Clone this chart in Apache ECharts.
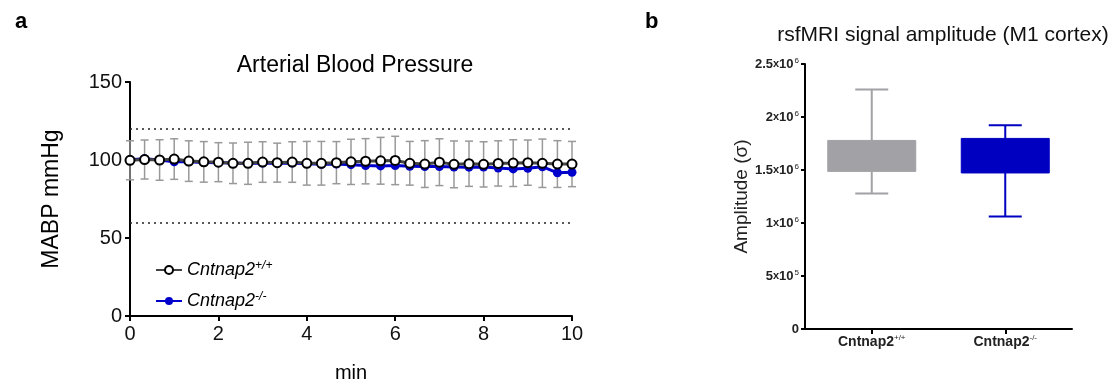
<!DOCTYPE html>
<html><head><meta charset="utf-8">
<script src="https://cdn.jsdelivr.net/npm/echarts@6/dist/echarts.min.js"></script>
<style>html,body{margin:0;padding:0;background:#fff}#c{width:1112px;height:385px}</style>
</head><body><div id="c"></div>
<script>
// ---- Panel a data ----
const minutes = [0, 0.33, 0.67, 1, 1.33, 1.67, 2, 2.33, 2.67, 3, 3.33, 3.67, 4, 4.33, 4.67, 5, 5.33, 5.67, 6, 6.33, 6.67, 7, 7.33, 7.67, 8, 8.33, 8.67, 9, 9.33, 9.67, 10];
const wtMean = [99.8, 100.3, 100.0, 100.6, 99.3, 98.8, 98.6, 97.9, 97.9, 98.7, 98.3, 98.7, 97.9, 97.9, 98.3, 98.8, 99.2, 99.5, 99.7, 97.9, 97.4, 98.6, 97.2, 97.6, 97.2, 97.8, 98.0, 98.3, 97.9, 97.4, 97.4];
const wtSD = [12.5, 12.5, 13, 13, 13, 13, 12.5, 13, 13.5, 13, 12.5, 13, 14, 14, 13.5, 14.5, 14.5, 15, 15.5, 14, 15, 15, 15, 14.5, 14.5, 14.5, 15, 14.5, 15.5, 15, 14.5];
const koMean = [100.2, 100.8, 100.0, 98.8, 98.8, 98.4, 98.2, 98.0, 97.8, 98.0, 97.8, 98.0, 97.6, 97.2, 97.4, 97.0, 96.4, 96.2, 96.4, 96.0, 95.8, 95.8, 95.5, 95.4, 95.5, 94.8, 94.3, 94.7, 95.7, 91.8, 92.1];
const refLines = [120, 60];
const seriesNames = ['Cntnap2+/+', 'Cntnap2-/-'];
const seriesSup = ['+/+', '-/-'];

// ---- Panel b data ----
const boxGroups = ['Cntnap2+/+', 'Cntnap2-/-'];
const boxMin = [1279000, 1062000];
const boxQ1 = [1487000, 1472000];
const boxQ3 = [1779000, 1798000];
const boxMax = [2260000, 1921000];
const ampTickLabels = {0: ['0', ''], 500000: ['5', '5'], 1000000: ['1', '6'], 1500000: ['1.5', '6'], 2000000: ['2', '6'], 2500000: ['2.5', '6']};

const FONT = 'Liberation Sans, Arial, sans-serif';
const chart = echarts.init(document.getElementById('c'), null, {renderer: 'canvas'});

const boxColors = ['#a2a2a6', '#0000c0'];

const option = {
  animation: false,
  backgroundColor: '#fff',
  textStyle: {fontFamily: FONT},
  title: [
    {text: 'a', left: 10, top: 6, textStyle: {fontSize: 22, fontWeight: 'bold', color: '#000', fontFamily: FONT}},
    {text: 'b', left: 640, top: 6, textStyle: {fontSize: 22, fontWeight: 'bold', color: '#000', fontFamily: FONT}},
    {text: 'Arterial Blood Pressure', left: 350, top: 49, textAlign: 'center', textStyle: {fontSize: 23, fontWeight: 'normal', color: '#000', fontFamily: FONT}},
    {text: 'rsfMRI signal amplitude (M1 cortex)', left: 938, top: 20, textAlign: 'center', textStyle: {fontSize: 21, fontWeight: 'normal', color: '#111', fontFamily: FONT}}
  ],
  legend: {
    orient: 'vertical', left: 150, top: 255, itemWidth: 26, itemHeight: 10, itemGap: 10,
    data: seriesNames,
    formatter: function (name) { const i = seriesNames.indexOf(name); return '{i|Cntnap2}{s|' + seriesSup[i] + '}'; },
    textStyle: {
      rich: {
        i: {fontSize: 18, fontStyle: 'italic', color: '#000', fontFamily: FONT, lineHeight: 20},
        s: {fontSize: 12, fontStyle: 'italic', color: '#000', fontFamily: FONT, verticalAlign: 'top', lineHeight: 20, padding: [0, 0, 9, 0]}
      }
    }
  },
  grid: [
    {left: 130, right: 540, top: 82, bottom: 69, containLabel: false, outerBoundsMode: 'none'},
    {left: 805, right: 40, top: 64, bottom: 56, containLabel: false, outerBoundsMode: 'none'}
  ],
  xAxis: [
    {
      type: 'value', gridIndex: 0, min: 0, max: 10, interval: 2,
      name: 'min', nameLocation: 'middle', nameGap: 47,
      nameTextStyle: {fontSize: 20, color: '#000', fontFamily: FONT},
      axisLine: {show: true, lineStyle: {color: '#000', width: 2}},
      axisTick: {show: true, length: 5, lineStyle: {color: '#000', width: 2}},
      axisLabel: {fontSize: 20, color: '#111', margin: 8, fontFamily: FONT},
      splitLine: {show: false}
    },
    {
      type: 'category', gridIndex: 1, data: boxGroups,
      axisLine: {show: true, lineStyle: {color: '#000', width: 2}},
      axisTick: {show: true, alignWithLabel: true, length: 5, lineStyle: {color: '#000', width: 2}},
      axisLabel: {
        margin: 5, color: '#111',
        formatter: function (v) { const i = boxGroups.indexOf(v); return '{n|Cntnap2}{s|' + seriesSup[i] + '}'; },
        rich: {
          n: {fontSize: 14, fontWeight: 'bold', color: '#222', fontFamily: FONT, lineHeight: 16},
          s: {fontSize: 8, color: '#222', fontFamily: FONT, verticalAlign: 'top', lineHeight: 16, padding: [0, 0, 7, 0]}
        }
      },
      splitLine: {show: false}
    }
  ],
  yAxis: [
    {
      type: 'value', gridIndex: 0, min: 0, max: 150, interval: 50,
      name: 'MABP mmHg', nameLocation: 'middle', nameGap: 67,
      nameTextStyle: {fontSize: 23, color: '#000', fontFamily: FONT},
      axisLine: {show: true, lineStyle: {color: '#000', width: 2}},
      axisTick: {show: true, length: 5, lineStyle: {color: '#000', width: 2}},
      axisLabel: {fontSize: 20, color: '#111', margin: 8, fontFamily: FONT},
      splitLine: {show: false}
    },
    {
      type: 'value', gridIndex: 1, min: 0, max: 2500000, interval: 500000,
      name: 'Amplitude (σ)', nameLocation: 'middle', nameGap: 52,
      nameTextStyle: {fontSize: 19, color: '#222', fontFamily: FONT},
      axisLine: {show: true, lineStyle: {color: '#000', width: 2}},
      axisTick: {show: true, length: 4, lineStyle: {color: '#000', width: 2}},
      axisLabel: {
        margin: 6,
        formatter: function (v) {
          const p = ampTickLabels[v];
          if (!p) return '';
          if (p[1] === '') return '{b|' + p[0] + '}';
          return '{b|' + p[0] + '}{x|x}{b|10}{s|' + p[1] + '}';
        },
        rich: {
          b: {fontSize: 13, fontWeight: 'bold', color: '#222', fontFamily: FONT, lineHeight: 14},
          x: {fontSize: 11, fontWeight: 'bold', color: '#222', fontFamily: FONT, lineHeight: 14},
          s: {fontSize: 8, color: '#222', fontFamily: FONT, verticalAlign: 'top', lineHeight: 14, padding: [0, 0, 6, 1]}
        }
      },
      splitLine: {show: false}
    }
  ],
  series: [
    {
      type: 'custom', name: 'errorbars', xAxisIndex: 0, yAxisIndex: 0, z: 1,
      data: minutes.map((m, i) => [m, wtMean[i] - wtSD[i], wtMean[i] + wtSD[i]]),
      encode: {x: 0, y: [1, 2]},
      renderItem: function (params, api) {
        const lo = api.coord([api.value(0), api.value(1)]);
        const hi = api.coord([api.value(0), api.value(2)]);
        const hw = 4;
        const st = {stroke: '#999', lineWidth: 1.5};
        return {type: 'group', children: [
          {type: 'line', shape: {x1: lo[0], y1: lo[1], x2: hi[0], y2: hi[1]}, style: st},
          {type: 'line', shape: {x1: lo[0] - hw, y1: lo[1], x2: lo[0] + hw, y2: lo[1]}, style: st},
          {type: 'line', shape: {x1: hi[0] - hw, y1: hi[1], x2: hi[0] + hw, y2: hi[1]}, style: st}
        ]};
      }
    },
    {
      type: 'line', name: seriesNames[1], xAxisIndex: 0, yAxisIndex: 0, z: 3,
      data: minutes.map((m, i) => [m, koMean[i]]),
      symbol: 'circle', symbolSize: 9,
      itemStyle: {color: '#0000cc'},
      lineStyle: {color: '#0000cc', width: 3},
      markLine: {
        silent: true, symbol: 'none', label: {show: false},
        lineStyle: {type: [2, 4], color: '#222', width: 1.5},
        data: refLines.map(v => ({yAxis: v}))
      }
    },
    {
      type: 'line', name: seriesNames[0], xAxisIndex: 0, yAxisIndex: 0, z: 4,
      data: minutes.map((m, i) => [m, wtMean[i]]),
      symbol: 'circle', symbolSize: 9,
      itemStyle: {color: '#fff', borderColor: '#000', borderWidth: 2},
      lineStyle: {color: '#444', width: 3}
    },
    {
      type: 'custom', name: 'box', xAxisIndex: 1, yAxisIndex: 1,
      data: boxGroups.map((g, i) => [i, boxMin[i], boxQ1[i], boxQ3[i], boxMax[i]]),
      encode: {x: 0, y: [1, 2, 3, 4]},
      renderItem: function (params, api) {
        const i = api.value(0);
        const pMin = api.coord([i, api.value(1)]);
        const pQ1 = api.coord([i, api.value(2)]);
        const pQ3 = api.coord([i, api.value(3)]);
        const pMax = api.coord([i, api.value(4)]);
        const x = pMin[0];
        const bw = 88, cw = 33;
        const col = boxColors[params.dataIndex];
        const st = {stroke: col, lineWidth: 2};
        return {type: 'group', children: [
          {type: 'line', shape: {x1: x, y1: pMin[1], x2: x, y2: pQ1[1]}, style: st},
          {type: 'line', shape: {x1: x, y1: pQ3[1], x2: x, y2: pMax[1]}, style: st},
          {type: 'line', shape: {x1: x - cw / 2, y1: pMin[1], x2: x + cw / 2, y2: pMin[1]}, style: st},
          {type: 'line', shape: {x1: x - cw / 2, y1: pMax[1], x2: x + cw / 2, y2: pMax[1]}, style: st},
          {type: 'rect', shape: {x: x - bw / 2, y: pQ3[1], width: bw, height: pQ1[1] - pQ3[1]}, style: {fill: col, stroke: col, lineWidth: 1}}
        ]};
      }
    }
  ]
};
chart.setOption(option);
</script>
</body></html>
